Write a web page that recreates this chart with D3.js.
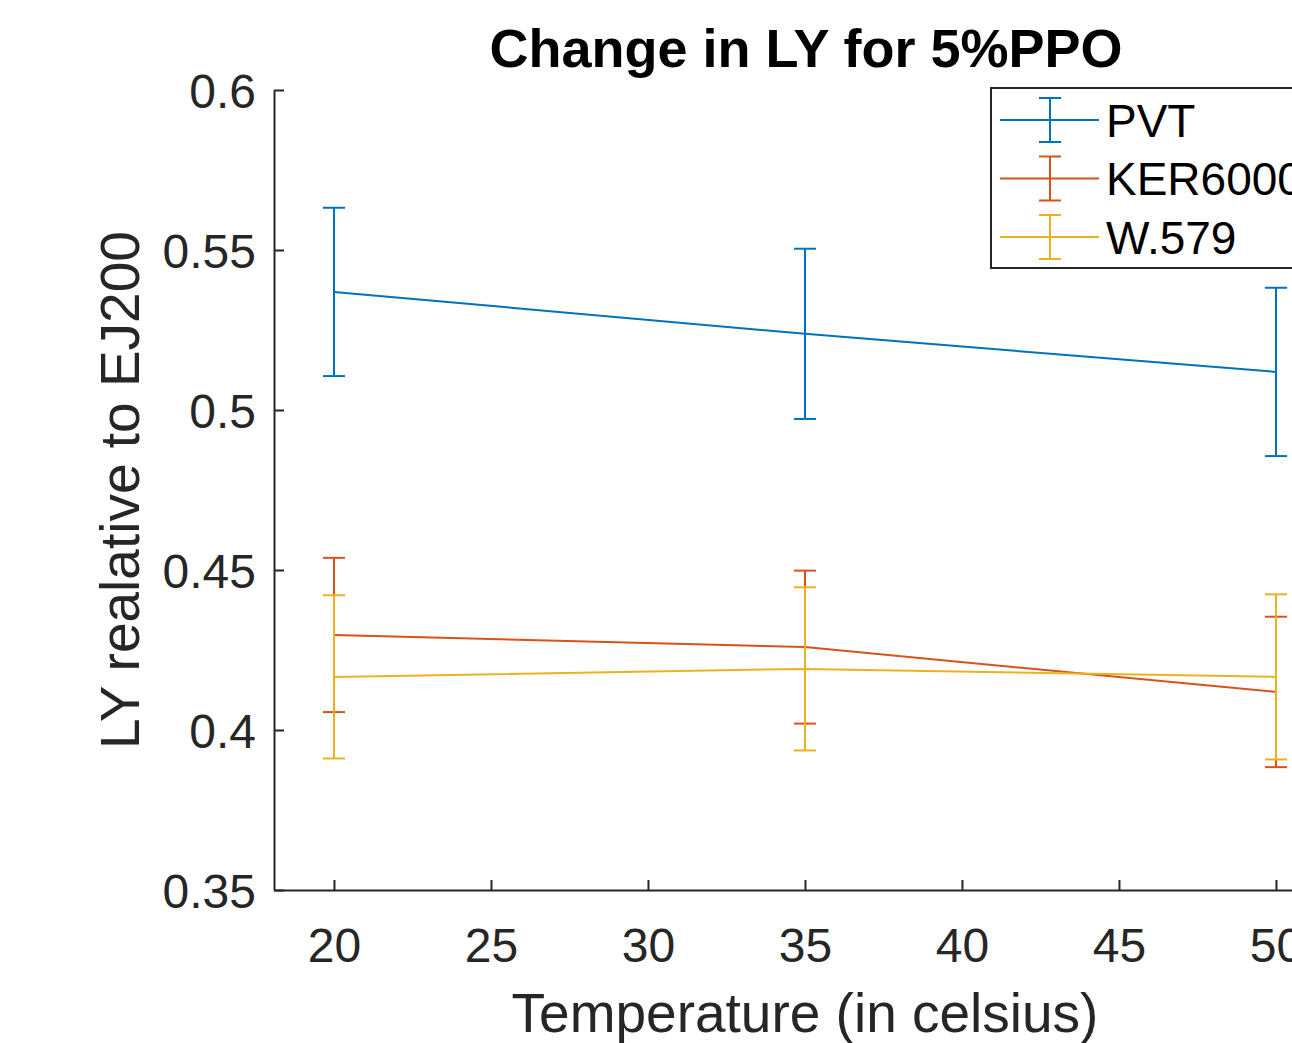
<!DOCTYPE html>
<html>
<head>
<meta charset="utf-8">
<script src="https://cdn.jsdelivr.net/npm/d3@7"></script>
<style>
body { margin: 0; background: #fff; }
svg text { font-family: "Liberation Sans", Arial, Helvetica, sans-serif; }
</style>
</head>
<body>
<div id="graph"></div>
<script>
// data
var temps = [20, 35, 50];
var seriesNames = ["PVT", "KER6000", "W.579"];
var seriesColors = ["#0072BD", "#D95319", "#EDB120"];
var pvt = [0.5369, 0.5238, 0.5119];
var pvtErr = [0.0263, 0.0266, 0.0263];
var ker = [0.4297, 0.4259, 0.4119];
var kerErr = [0.0241, 0.0239, 0.0235];
var w579 = [0.4166, 0.4191, 0.4166];
var w579Err = [0.0255, 0.0255, 0.0258];
var xTicks = [20, 25, 30, 35, 40, 45, 50];
var yTicks = [0.35, 0.4, 0.45, 0.5, 0.55, 0.6];

var series = [
  {name: seriesNames[0], color: seriesColors[0], y: pvt, e: pvtErr},
  {name: seriesNames[1], color: seriesColors[1], y: ker, e: kerErr},
  {name: seriesNames[2], color: seriesColors[2], y: w579, e: w579Err}
];

var W = 1292, H = 1043;
var plotLeft = 274, plotTop = 90, plotBottom = 890;
var axisColor = "#262626";

var svg = d3.select("#graph").append("svg")
  .attr("width", W)
  .attr("height", H);

var x = d3.scaleLinear().domain([18.09, 52]).range([plotLeft, plotLeft + (52 - 18.09) * 31.4]);
var y = d3.scaleLinear().domain([0.35, 0.6]).range([plotBottom, plotTop]);

// series lines and error bars
var line = d3.line()
  .x(function(d, i) { return x(temps[i]); })
  .y(function(d) { return y(d); });

var cap = 11;
series.forEach(function(s) {
  var g = svg.append("g").attr("stroke", s.color).attr("stroke-width", 2).attr("fill", "none");
  g.append("path").attr("d", line(s.y));
  s.y.forEach(function(v, i) {
    var cx = x(temps[i]);
    var y1 = y(v + s.e[i]), y2 = y(v - s.e[i]);
    g.append("line").attr("x1", cx).attr("x2", cx).attr("y1", y1).attr("y2", y2);
    g.append("line").attr("x1", cx - cap).attr("x2", cx + cap).attr("y1", y1).attr("y2", y1);
    g.append("line").attr("x1", cx - cap).attr("x2", cx + cap).attr("y1", y2).attr("y2", y2);
  });
});

// axes (box off, ticks inside)
var xAxis = svg.append("g")
  .attr("transform", "translate(0," + plotBottom + ")")
  .call(d3.axisBottom(x).tickValues(xTicks).tickSizeInner(-10).tickSizeOuter(0).tickPadding(38));
var yAxis = svg.append("g")
  .attr("transform", "translate(" + plotLeft + ",0)")
  .call(d3.axisLeft(y).tickValues(yTicks).tickSizeInner(-10).tickSizeOuter(0).tickPadding(18)
    .tickFormat(function(d) { return String(+d.toFixed(2)); }));

[xAxis, yAxis].forEach(function(a) {
  a.select(".domain").attr("stroke", axisColor).attr("stroke-width", 2);
  a.selectAll(".tick line").attr("stroke", axisColor).attr("stroke-width", 2);
  a.selectAll(".tick text")
    .attr("fill", axisColor)
    .style("font-size", "48px")
    .style("font-family", "Liberation Sans, Arial, sans-serif");
});
xAxis.selectAll(".tick text").attr("dy", "0.71em");
yAxis.selectAll(".tick text").attr("dy", "0.36em");

// titles
svg.append("text")
  .attr("x", 806).attr("y", 67)
  .attr("text-anchor", "middle")
  .attr("font-weight", "bold")
  .attr("font-size", "54px")
  .attr("fill", "#000")
  .text("Change in LY for 5%PPO");

svg.append("text")
  .attr("x", 805).attr("y", 1032)
  .attr("text-anchor", "middle")
  .attr("font-size", "55px")
  .attr("fill", axisColor)
  .text("Temperature (in celsius)");

svg.append("text")
  .attr("transform", "translate(139,490) rotate(-90)")
  .attr("text-anchor", "middle")
  .attr("font-size", "55px")
  .attr("fill", axisColor)
  .text("LY realative to EJ200");

// legend
var lg = svg.append("g");
lg.append("rect")
  .attr("x", 991).attr("y", 88)
  .attr("width", 340).attr("height", 180)
  .attr("fill", "#fff")
  .attr("stroke", axisColor)
  .attr("stroke-width", 2);

series.forEach(function(s, i) {
  var ly = 120 + i * 58.5;
  var g = lg.append("g").attr("stroke", s.color).attr("stroke-width", 2);
  g.append("line").attr("x1", 1000).attr("x2", 1099).attr("y1", ly).attr("y2", ly);
  g.append("line").attr("x1", 1050).attr("x2", 1050).attr("y1", ly - 22).attr("y2", ly + 22);
  g.append("line").attr("x1", 1039).attr("x2", 1061).attr("y1", ly - 22).attr("y2", ly - 22);
  g.append("line").attr("x1", 1039).attr("x2", 1061).attr("y1", ly + 22).attr("y2", ly + 22);
  lg.append("text")
    .attr("x", 1106).attr("y", ly)
    .attr("dy", "0.36em")
    .attr("font-size", "46px")
    .attr("fill", "#000")
    .text(s.name);
});
</script>
</body>
</html>
